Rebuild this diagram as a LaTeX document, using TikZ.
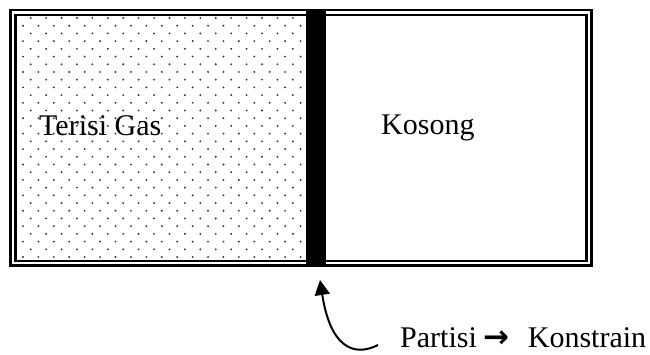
\documentclass[tikz,border=0pt]{standalone}
\usepackage{fontspec}
\setmainfont{Liberation Serif}
\newfontfamily\arrowfont{DejaVu Sans}
\usetikzlibrary{arrows.meta}
\tikzset{
  lbl/.style={anchor=base west, inner sep=0pt, font=\fontsize{30}{36}\selectfont},
  dotc/.style={fill=black!80},
  frameline/.style={line width=2.6pt, draw=black},
  wall/.style={fill=black, draw=none, inner sep=0pt, minimum width=20pt, minimum height=254pt},
  pointer/.style={line width=2pt, -{Triangle[length=15pt,width=15pt]}}
}
\begin{document}
\begin{tikzpicture}[x=1pt,y=-1pt]
\useasboundingbox (0,0) rectangle (650,354);
% dotted gas region
\foreach \k in {0,2,...,30}
  \foreach \j in {0,...,17}
    \fill[dotc] ({30.7+15.42*\j},{18+7.71*\k}) circle (1.05);
\foreach \k in {1,3,...,31}
  \foreach \j in {0,...,18}
    \fill[dotc] ({23+15.42*\j},{18+7.71*\k}) circle (1.05);
% container
\draw[frameline] (10.5,10) rectangle (591.5,265.3);
\draw[frameline] (15.3,15) rectangle (586.2,260.8);
% partition
\node[wall] (part) at (316,138) {};
% labels
\node[lbl] (gas) at (39,135) {Terisi Gas};
\node[lbl] (empty) at (381,134) {Kosong};
\node[lbl] (note) at (400,347) {Partisi\hspace{7pt}{\arrowfont\bfseries\fontsize{31}{31}\selectfont →}\hspace{18pt}Konstrain};
% pointer
\coordinate (tail) at (378,345);
\coordinate (tip) at (320,280);
\draw[pointer] (tail) .. controls (352,358) and (330,345) .. (tip);
\end{tikzpicture}
\end{document}
